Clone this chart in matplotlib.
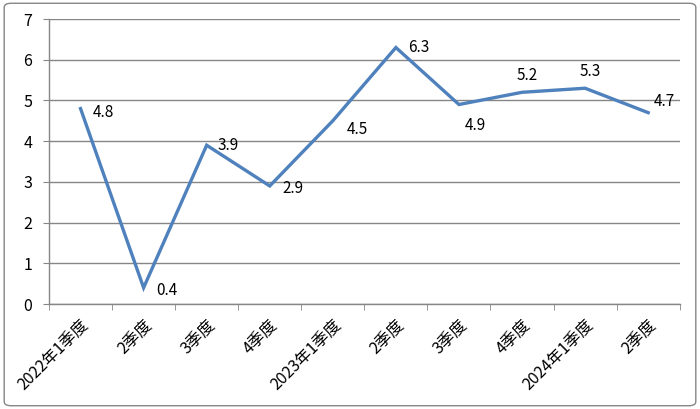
import matplotlib
matplotlib.use('Agg')
import matplotlib.pyplot as plt
from matplotlib.patches import FancyBboxPatch
import numpy as np

plt.rcParams['font.family'] = ['Noto Sans CJK SC', 'DejaVu Sans']

categories = ['2022年1季度', '2季度', '3季度', '4季度', '2023年1季度',
              '2季度', '3季度', '4季度', '2024年1季度', '2季度']
values = [4.8, 0.4, 3.9, 2.9, 4.5, 6.3, 4.9, 5.2, 5.3, 4.7]
# label offsets in points (dx, dy, ha, va)
offsets = [(9, -3, 'left', 'center'), (9, -2, 'left', 'center'),
           (8, 0, 'left', 'center'), (9, -2, 'left', 'center'),
           (10, -6, 'left', 'center'), (9, 0, 'left', 'center'),
           (4, -9, 'left', 'top'), (4, 6, 'center', 'bottom'),
           (4, 6, 'center', 'bottom'), (4, 2, 'left', 'bottom')]

fig = plt.figure(figsize=(7, 4.09), dpi=100, facecolor='white')
ax = fig.add_axes([0.07, 0.2567, 0.901, 0.6968])

x = np.arange(len(values))
ax.plot(x, values, color='#4f81bd', linewidth=2.4, solid_joinstyle='miter', zorder=3)

for xi, v, (dx, dy, ha, va) in zip(x, values, offsets):
    ax.annotate(f'{v}', (xi, v), xytext=(dx, dy), textcoords='offset points',
                fontsize=11, ha=ha, va=va, color='black')

ax.set_xlim(-0.5, len(values) - 0.5)
ax.set_ylim(0, 7)
ax.set_yticks(range(0, 8))
ax.tick_params(axis='y', labelsize=11.5, length=4, color='#868686', pad=8)
ax.yaxis.grid(True, color='#868686', linewidth=1)
ax.set_axisbelow(True)

ax.set_xticks(x)
ax.set_xticklabels(categories, rotation=45, ha='right', rotation_mode='anchor', fontsize=11.5)
ax.tick_params(axis='x', which='major', length=0, pad=9)
ax.set_xticks(np.arange(-0.5, len(values)), minor=True)
ax.tick_params(axis='x', which='minor', length=4, color='#868686')

for s in ['top', 'right']:
    ax.spines[s].set_visible(False)
for s in ['left', 'bottom']:
    ax.spines[s].set_color('#868686')
    ax.spines[s].set_linewidth(1)

border = FancyBboxPatch((0.006, 0.008), 0.988, 0.984, boxstyle='round,pad=0,rounding_size=0.01',
                        transform=fig.transFigure, fill=False, edgecolor='#868686', linewidth=1)
fig.patches.append(border)

fig.savefig('out.png', dpi=100, facecolor='white')
